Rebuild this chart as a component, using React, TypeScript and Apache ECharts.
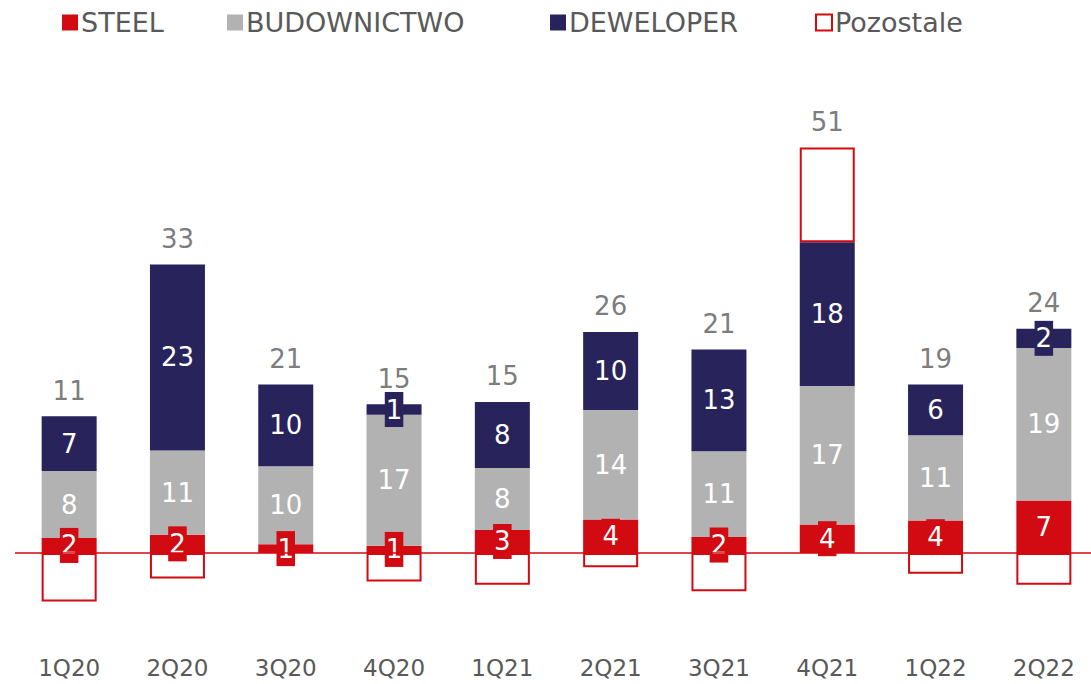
import React, { useEffect, useRef } from "react";
import * as echarts from "echarts";

const categories = ["1Q20", "2Q20", "3Q20", "4Q20", "1Q21", "2Q21", "3Q21", "4Q21", "1Q22", "2Q22"];
const steel = [1.9, 2.3, 1.1, 0.9, 2.9, 4.2, 2.0, 3.6, 4.1, 6.6];
const budownictwo = [8.4, 10.6, 9.8, 16.5, 7.8, 13.8, 10.8, 17.4, 10.7, 19.2];
const deweloper = [6.9, 23.4, 10.3, 1.3, 8.3, 9.8, 12.8, 18.1, 6.4, 2.4];
const pozostale = [-6.1, -3.2, null, -3.6, -4.0, -1.8, -4.8, 11.9, -2.6, -4.0];
const seriesNames = ["STEEL", "BUDOWNICTWO", "DEWELOPER", "Pozostale"];
const legendLeft = [57, 222, 545, 810];

const RED = "#D20A11";
const GRAY = "#B2B2B2";
const NAVY = "#29235C";
const TXT = "#595959";
const FONT = "DejaVu Sans";

export default function App() {
  const ref = useRef<HTMLDivElement>(null);
  useEffect(() => {
    if (!ref.current) return;
    const chart = echarts.init(ref.current, undefined, { renderer: "svg" });
    const totals = categories.map(
      (_, i) => steel[i] + budownictwo[i] + deweloper[i] + (pozostale[i] || 0)
    );
    const posTops = categories.map(
      (_, i) => steel[i] + budownictwo[i] + deweloper[i] + Math.max(0, pozostale[i] || 0)
    );
    const inLabel = (bg: string) => ({
      show: true,
      position: "inside",
      color: "#fff",
      fontFamily: FONT,
      fontSize: 26,
      lineHeight: 30,
      backgroundColor: bg,
      padding: [3, 1, 2, 1],
      formatter: (p: any) => (p.value ? String(Math.round(p.value)) : ""),
    });
    chart.setOption({
      animation: false,
      textStyle: { fontFamily: FONT },
      legend: seriesNames.map((n, i) => ({
        data: [n],
        left: legendLeft[i],
        top: 4,
        itemWidth: 16,
        itemHeight: 16,
        itemGap: 0,
        icon: "rect",
        textStyle: { color: TXT, fontSize: 27, fontFamily: FONT, padding: [0, 0, 0, -2] },
      })),
      grid: { left: 15, width: 1083, top: 76, height: 556.5, outerBoundsMode: "none" },
      xAxis: {
        type: "category",
        data: categories,
        axisLine: { show: false, onZero: false },
        axisTick: { show: false },
        axisLabel: { color: TXT, fontSize: 23, fontFamily: FONT, margin: 24, verticalAlign: "top" },
      },
      yAxis: {
        type: "value",
        min: -10,
        max: 60,
        show: false,
        splitLine: { show: false },
      },
      series: [
        {
          name: "STEEL",
          type: "bar",
          stack: "s",
          barWidth: 55,
          data: steel,
          itemStyle: { color: RED },
          label: inLabel(RED),
        },
        {
          name: "BUDOWNICTWO",
          type: "bar",
          stack: "s",
          data: budownictwo,
          itemStyle: { color: GRAY },
          label: inLabel(GRAY),
        },
        {
          name: "DEWELOPER",
          type: "bar",
          stack: "s",
          data: deweloper,
          itemStyle: { color: NAVY },
          label: inLabel(NAVY),
        },
        {
          name: "Pozostale",
          type: "bar",
          stack: "s",
          data: pozostale,
          itemStyle: { color: "#fff", borderColor: RED, borderWidth: 2 },
          label: { show: false },
          markLine: {
            silent: true,
            symbol: "none",
            label: { show: false },
            lineStyle: { color: RED, width: 1.5, type: "solid" },
            data: [{ yAxis: 0 }],
          },
        },
        {
          name: "total",
          type: "scatter",
          data: posTops,
          symbolSize: 1,
          itemStyle: { color: "rgba(0,0,0,0)" },
          z: 20,
          label: {
            show: true,
            position: "top",
            distance: 12,
            color: TXT,
            fontSize: 26,
            fontFamily: FONT,
            formatter: (p: any) => String(Math.round(totals[p.dataIndex])),
          },
        },
      ],
    });
    return () => chart.dispose();
  }, []);
  return (
    <div
      ref={ref}
      style={{ position: "fixed", left: 0, top: 0, width: 1091, height: 684, background: "#fff" }}
    />
  );
}
